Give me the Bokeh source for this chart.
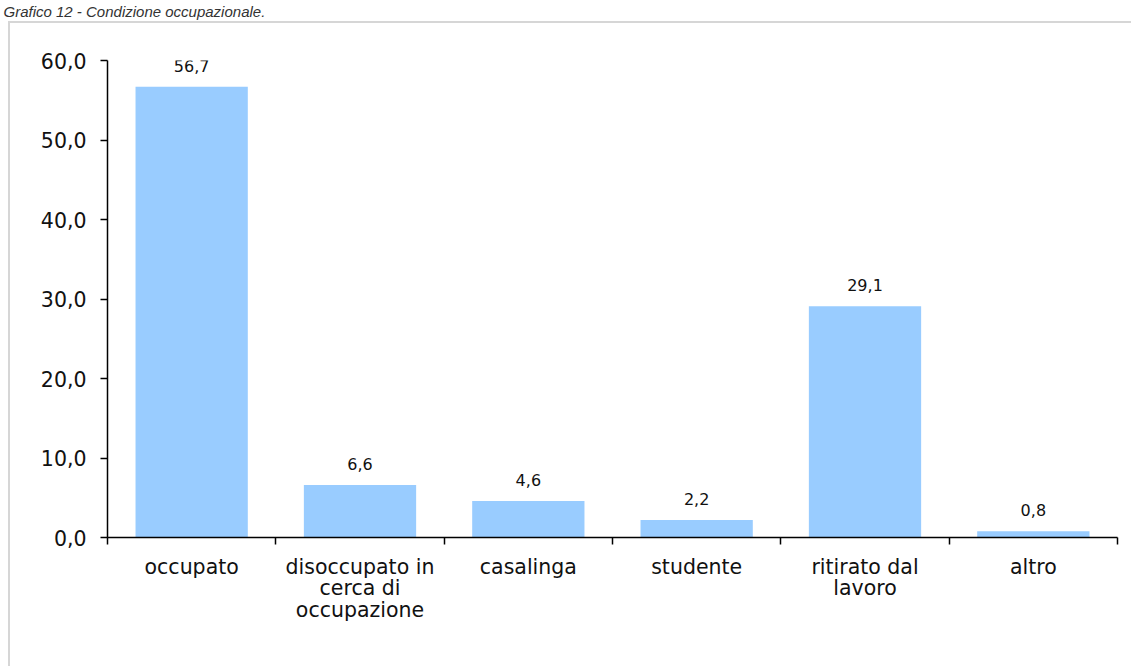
from bokeh.plotting import figure
from bokeh.models import (ColumnDataSource, FixedTicker, Range1d, LabelSet,
                          InlineStyleSheet, Title)
from bokeh.core.properties import value
from bokeh.embed import file_html
from bokeh.resources import INLINE

# ---- data ----
categories = ["occupato", "disoccupato in\ncerca di\noccupazione", "casalinga",
              "studente", "ritirato dal\nlavoro", "altro"]
values = [56.7, 6.6, 4.6, 2.2, 29.1, 0.8]
value_labels = ["56,7", "6,6", "4,6", "2,2", "29,1", "0,8"]
y_ticks = [0, 10, 20, 30, 40, 50, 60]
y_tick_labels = ["0,0", "10,0", "20,0", "30,0", "40,0", "50,0", "60,0"]
title_text = "Grafico 12 - Condizione occupazionale."

FL, FR, FB = 107, 14, 129
xs = [i + 0.5 for i in range(len(categories))]
src = ColumnDataSource(dict(x=xs, top=values, lab=value_labels))

p = figure(frame_width=1010, frame_height=477, output_backend="svg",
           toolbar_location=None,
           x_range=Range1d(0, len(categories)), y_range=Range1d(0, 60),
           min_border_left=FL, min_border_right=FR, min_border_top=0,
           min_border_bottom=FB)
p.outline_line_color = None
p.grid.visible = False
p.background_fill_color = "white"
p.border_fill_color = "white"

# invisible spacer between the frame and the page title
p.add_layout(Title(text=" ", text_font_size="10px", standoff=28), "above")

# title (top-left of the page)
p.title.text = title_text
p.title.align = "left"
p.title.offset = -104
p.title.standoff = 0
p.title.text_font = "Liberation Sans"
p.title.text_font_style = "italic"
p.title.text_font_size = "15px"
p.title.text_color = "#333333"

# outer light grey border (continues past the right and bottom edges)
p.stylesheets = [InlineStyleSheet(css="""
:host { position: relative; }
:host::after {
  content: ""; position: absolute; left: 8px; top: 21px; right: 0; bottom: 0;
  border-top: 2px solid #d6d6d6; border-left: 2px solid #d6d6d6;
  pointer-events: none;
}
""")]

p.vbar(x="x", top="top", width=0.667, bottom=0, source=src,
       fill_color="#99CCFF", line_color=None)

p.add_layout(LabelSet(x="x", y="top", text="lab", source=src,
                      text_align="center", text_baseline="middle",
                      y_offset=21, text_font=value("DejaVu Sans"),
                      text_font_size="16px", text_color="#111111"))

# y axis
ya = p.yaxis[0]
ya.ticker = FixedTicker(ticks=y_ticks)
ya.major_label_overrides = {t: l for t, l in zip(y_ticks, y_tick_labels)}
ya.major_label_text_font = "DejaVu Sans"
ya.major_label_text_font_size = "20.5px"
ya.major_label_text_color = "#111111"
ya.major_tick_out = 7
ya.major_tick_in = 0
ya.minor_tick_out = 0
ya.minor_tick_in = 0
ya.major_label_standoff = 14
ya.axis_line_color = "black"
ya.axis_line_width = 1.5
ya.major_tick_line_width = 1.5
ya.major_tick_line_color = "black"

# x axis
xa = p.xaxis[0]
xa.ticker = FixedTicker(ticks=xs, minor_ticks=list(range(len(categories) + 1)))
xa.major_label_overrides = {x: c for x, c in zip(xs, categories)}
xa.major_label_text_font = "DejaVu Sans"
xa.major_label_text_font_size = "20.5px"
xa.major_label_text_line_height = 0.9
xa.major_label_text_color = "#111111"
xa.major_tick_out = 0
xa.major_tick_in = 0
xa.minor_tick_out = 7
xa.minor_tick_in = 0
xa.minor_tick_line_color = "black"
xa.minor_tick_line_width = 1.5
xa.major_label_standoff = 10
xa.axis_line_color = "black"
xa.axis_line_width = 1.5

open("out.html", "w").write(file_html(p, INLINE))
